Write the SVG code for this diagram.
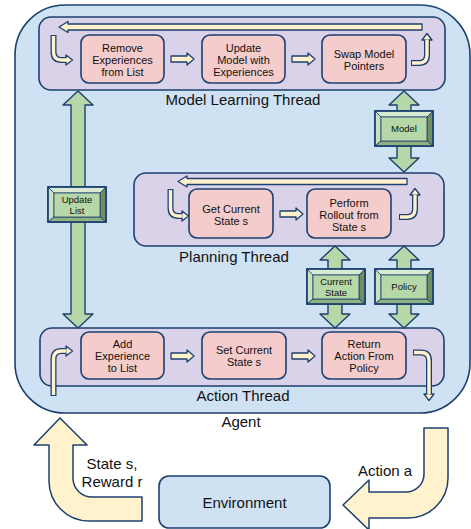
<svg xmlns="http://www.w3.org/2000/svg" xmlns:xlink="http://www.w3.org/1999/xlink" width="471" height="529" viewBox="0 0 471 529">
<style>
.agent{fill:#cfe2f3;stroke:#1c4070;stroke-width:1.6}
.thread{fill:#d9d2e9;stroke:#1c4070;stroke-width:1.6}
.step{fill:#f4cccc;stroke:#1c4070;stroke-width:1.6}
.cream{fill:#fff2cc;stroke:#1c4070;stroke-width:1.3;stroke-linejoin:round}
.green{fill:#b6d7a8;stroke:#1c4070;stroke-width:1.4;stroke-linejoin:round}
.big{fill:#fff2cc;stroke:#1c4070;stroke-width:1.5;stroke-linejoin:round}
.co{fill:none;stroke:#1c4070;stroke-width:6}
.ci{fill:none;stroke:#fff2cc;stroke-width:3.4}
.env{fill:#cfe2f3;stroke:#1c4070;stroke-width:1.6}
text{font-family:"Liberation Sans",Arial,sans-serif;fill:#111;text-anchor:middle}
.t11{font-size:11px}
.t9{font-size:9.5px}
.t14{font-size:15px}
</style>
<defs>
<polygon id="sa" class="cream" points="0,-3 16,-3 16,-6 23,0 16,6 16,3 0,3"/>
<g id="bevel">
<rect x="0" y="0" width="58" height="35" fill="#b6d7a8" stroke="#1c4070" stroke-width="1.4"/>
<polygon points="0,0 58,0 52,6 6,6" fill="#d9ead3" stroke="#1c4070" stroke-width="0.8"/>
<polygon points="0,0 6,6 6,30 0,35" fill="#c9e2bd" stroke="#1c4070" stroke-width="0.8"/>
<polygon points="58,0 58,35 52,30 52,6" fill="#6e8f63" stroke="#1c4070" stroke-width="0.8"/>
<polygon points="0,35 6,30 52,30 58,35" fill="#8fb380" stroke="#1c4070" stroke-width="0.8"/>
<rect x="6" y="6" width="46" height="24" fill="#b6d7a8" stroke="#1c4070" stroke-width="0.8"/>
<rect x="0" y="0" width="58" height="35" fill="none" stroke="#1c4070" stroke-width="1.6"/>
</g>
</defs>

<g id="agent">
<rect class="agent" x="15" y="5" width="455" height="408" rx="50"/>
<text class="t14" x="241" y="427">Agent</text>
</g>

<g id="model-learning-thread">
<rect class="thread" x="39" y="17" width="406" height="73" rx="12"/>
<text class="t14" x="243" y="105">Model Learning Thread</text>
</g>
<g id="planning-thread">
<rect class="thread" x="134" y="173" width="310" height="73" rx="12"/>
<text class="t14" x="234" y="262">Planning Thread</text>
</g>
<g id="action-thread">
<rect class="thread" x="40" y="328" width="404" height="58" rx="12"/>
<text class="t14" x="243" y="401">Action Thread</text>
</g>

<g id="remove-experiences">
<rect class="step" x="81" y="35" width="83" height="48" rx="8"/>
<text class="t11" x="122.5" y="52">Remove</text>
<text class="t11" x="122.5" y="64">Experiences</text>
<text class="t11" x="122.5" y="76">from List</text>
</g>
<g id="update-model">
<rect class="step" x="202" y="35" width="83" height="48" rx="8"/>
<text class="t11" x="243.5" y="52">Update</text>
<text class="t11" x="243.5" y="64">Model with</text>
<text class="t11" x="243.5" y="76">Experiences</text>
</g>
<g id="swap-pointers">
<rect class="step" x="322" y="35" width="84" height="48" rx="8"/>
<text class="t11" x="364" y="58">Swap Model</text>
<text class="t11" x="364" y="70">Pointers</text>
</g>

<g id="get-current-state">
<rect class="step" x="189" y="189" width="84" height="49" rx="8"/>
<text class="t11" x="231" y="213">Get Current</text>
<text class="t11" x="231" y="225">State s</text>
</g>
<g id="perform-rollout">
<rect class="step" x="307" y="189" width="84" height="49" rx="8"/>
<text class="t11" x="349" y="207">Perform</text>
<text class="t11" x="349" y="219">Rollout from</text>
<text class="t11" x="349" y="231">State s</text>
</g>

<g id="add-experience">
<rect class="step" x="81" y="332" width="83" height="47" rx="8"/>
<text class="t11" x="122.5" y="348">Add</text>
<text class="t11" x="122.5" y="360">Experience</text>
<text class="t11" x="122.5" y="372">to List</text>
</g>
<g id="set-current-state">
<rect class="step" x="202" y="332" width="84" height="47" rx="8"/>
<text class="t11" x="244" y="354">Set Current</text>
<text class="t11" x="244" y="366">State s</text>
</g>
<g id="return-action">
<rect class="step" x="322" y="332" width="84" height="47" rx="8"/>
<text class="t11" x="364" y="348">Return</text>
<text class="t11" x="364" y="360">Action From</text>
<text class="t11" x="364" y="372">Policy</text>
</g>

<g id="connectors">
<use xlink:href="#sa" href="#sa" x="171" y="59"/>
<use xlink:href="#sa" href="#sa" x="292" y="59"/>
<use xlink:href="#sa" href="#sa" x="280" y="214"/>
<use xlink:href="#sa" href="#sa" x="171" y="356"/>
<use xlink:href="#sa" href="#sa" x="292" y="356"/>
<polygon class="cream" points="422,24 68,24 68,21.5 59,27 68,32.5 68,30 422,30"/>
<polygon class="cream" points="407,178.5 187,178.5 187,176 178,181.5 187,187 187,184.5 407,184.5"/>

<path class="co" d="M53.5,35 V52 Q53.5,60 61.5,60 H67"/>
<polygon class="cream" points="66,55 72.5,60 66,65"/>
<path class="ci" d="M53.5,36 V52 Q53.5,60 61.5,60 H67.5"/>

<path class="co" d="M411,63 H419 Q427,63 427,55 V40"/>
<polygon class="cream" points="422,40 427,33.5 432,40"/>
<path class="ci" d="M412,63 H419 Q427,63 427,55 V39.5"/>

<path class="co" d="M170.5,189 V208 Q170.5,216 178.5,216 H182"/>
<polygon class="cream" points="182,211 188.5,216 182,221"/>
<path class="ci" d="M170.5,190 V208 Q170.5,216 178.5,216 H182.5"/>

<path class="co" d="M399,217 H407 Q415,217 415,209 V195"/>
<polygon class="cream" points="410,195 415,188.5 420,195"/>
<path class="ci" d="M400,217 H407 Q415,217 415,209 V194.5"/>

<path class="co" d="M53.5,396 V359 Q53.5,351 61.5,351 H66"/>
<polygon class="cream" points="66,346 72.5,351 66,356"/>
<path class="ci" d="M53.5,395 V359 Q53.5,351 61.5,351 H66.5"/>

<path class="co" d="M413,352.5 H421 Q429,352.5 429,360.5 V394"/>
<polygon class="cream" points="424,394 429,400.5 434,394"/>
<path class="ci" d="M414,352.5 H421 Q429,352.5 429,360.5 V394.5"/>

<polygon class="green" points="404,91 419,105 411,105 411,158 419,158 404,172 389,158 397,158 397,105 389,105"/>
<polygon class="green" points="78,91 93,105 85,105 85,314 93,314 78,328 63,314 71,314 71,105 63,105"/>
<polygon class="green" points="335,246 350,260 342,260 342,314 350,314 335,328 320,314 328,314 328,260 320,260"/>
<polygon class="green" points="404,246 419,260 411,260 411,314 419,314 404,328 389,314 397,314 397,260 389,260"/>

<path class="big" d="M142,497 H92 A19,19 0 0 1 73,478 V445 H87 L60,418 L34,445 H49 V481 A40,40 0 0 0 89,521 H142 Z"/>
<path class="big" d="M424,428 V474 A18,18 0 0 1 406,492 H369 V480 L343,505 L369,530 V518 H408 A40,40 0 0 0 448,478 V428 Z"/>
<text class="t14" x="112" y="469">State s,</text>
<text class="t14" x="112" y="487">Reward r</text>
<text class="t14" x="385" y="476">Action a</text>
</g>

<g id="update-list">
<use xlink:href="#bevel" href="#bevel" x="48" y="187"/>
<text class="t9" x="77" y="203">Update</text>
<text class="t9" x="77" y="214">List</text>
</g>
<g id="model">
<use xlink:href="#bevel" href="#bevel" x="375" y="111"/>
<text class="t9" x="404" y="132">Model</text>
</g>
<g id="current-state">
<use xlink:href="#bevel" href="#bevel" x="307" y="269"/>
<text class="t9" x="336" y="285">Current</text>
<text class="t9" x="336" y="296">State</text>
</g>
<g id="policy">
<use xlink:href="#bevel" href="#bevel" x="375" y="269"/>
<text class="t9" x="404" y="290">Policy</text>
</g>

<g id="environment">
<rect class="env" x="159" y="476" width="171" height="52" rx="10"/>
<text class="t14" x="244.5" y="508">Environment</text>
</g>
</svg>
